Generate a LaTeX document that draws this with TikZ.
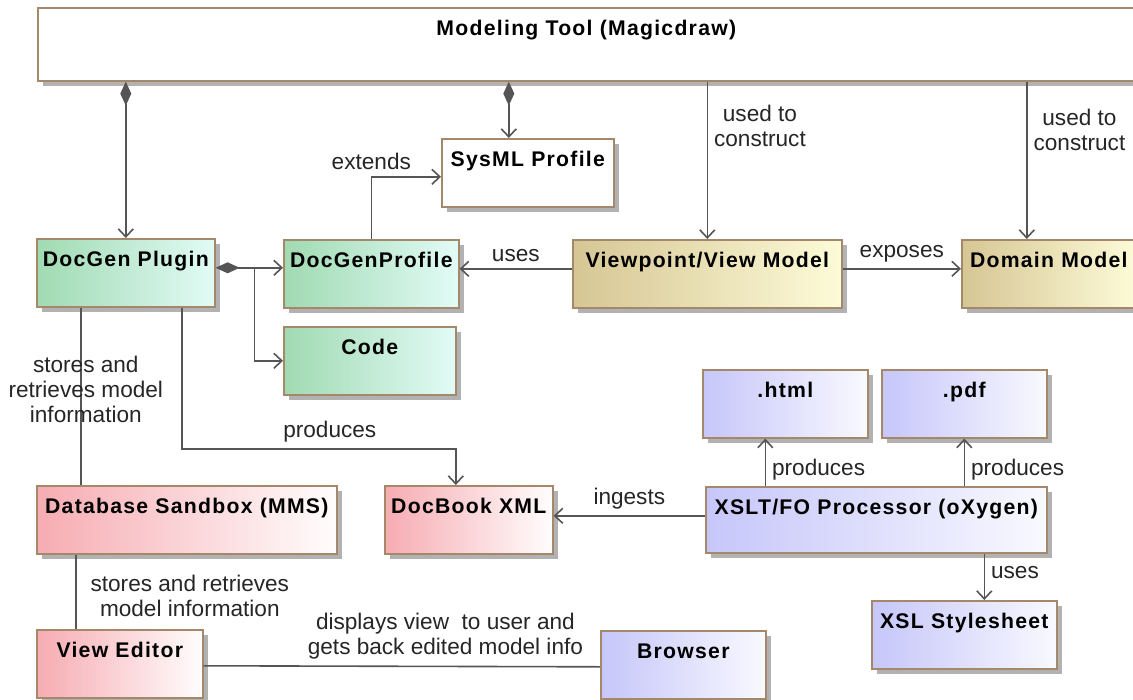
\documentclass[tikz,border=0pt]{standalone}
\usepackage{fontspec}
\setmainfont{Liberation Sans}
\newfontfamily\boxfont{Liberation Sans}[LetterSpace=6]
\usetikzlibrary{arrows.meta, shadows}
\definecolor{edgebrown}{RGB}{165,135,105}
\definecolor{linegray}{RGB}{85,85,85}
\definecolor{greenL}{RGB}{160,218,178}
\definecolor{greenR}{RGB}{226,251,246}
\definecolor{goldL}{RGB}{214,198,148}
\definecolor{goldR}{RGB}{253,251,216}
\definecolor{pinkL}{RGB}{246,172,178}
\definecolor{pinkR}{RGB}{255,253,253}
\definecolor{blueL}{RGB}{198,198,250}
\definecolor{blueR}{RGB}{249,249,255}

\tikzset{
  block/.style={draw=edgebrown, line width=0.8pt, inner sep=0pt, anchor=north west,
    text height=14pt, text depth=20pt,
    font=\fontsize{10.6}{12}\boxfont\bfseries,
    drop shadow={shadow xshift=2.5pt, shadow yshift=-2.5pt, fill=black!30, opacity=1}},
  plainbox/.style={block, fill=white},
  greenbox/.style={block, left color=greenL, right color=greenR},
  goldbox/.style={block, left color=goldL, right color=goldR},
  pinkbox/.style={block, left color=pinkL, right color=pinkR},
  bluebox/.style={block, left color=blueL, right color=blueR},
  lbl/.style={font=\fontsize{11.3}{12.5}\selectfont, text=black!85, inner sep=1pt, align=center},
  assoc/.style={draw=linegray, line width=0.8pt},
  barb/.style={assoc, -{Straight Barb[length=4pt, width=7.5pt]}},
  compose/.style={assoc, {Diamond[length=12pt, width=5.5pt]}-{Straight Barb[length=4pt, width=7.5pt]}}
}

\begin{document}
\begin{tikzpicture}[x=0.5pt, y=-0.5pt]
  \clip (0,0) rectangle (1133,700);
  \fill[white] (0,0) rectangle (1133,700);

  % blocks
  \node[plainbox, minimum width=548.5pt, text depth=22.5pt] (tool) at (37,7) {Modeling Tool (Magicdraw)};
  \node[plainbox, minimum width=86pt] (sysml) at (441,138) {SysML Profile};
  \node[greenbox, minimum width=89pt] (plugin) at (36,238) {DocGen Plugin};
  \node[greenbox, minimum width=87.5pt] (profile) at (283,239) {DocGenProfile};
  \node[greenbox, minimum width=86pt] (code) at (283,326) {Code};
  \node[goldbox, minimum width=134.5pt] (viewmodel) at (572,239) {Viewpoint/View Model};
  \node[goldbox, minimum width=87pt] (domain) at (961,239) {Domain Model};
  \node[bluebox, minimum width=82.5pt] (html) at (702,369) {.html};
  \node[bluebox, minimum width=82.5pt] (pdf) at (881,369) {.pdf};
  \node[bluebox, minimum width=170.5pt, text depth=19pt] (xslt) at (705,486) {XSLT/FO Processor (oXygen)};
  \node[bluebox, minimum width=92.5pt] (xsl) at (871,600) {XSL Stylesheet};
  \node[pinkbox, minimum width=150pt] (db) at (36,485) {Database Sandbox (MMS)};
  \node[pinkbox, minimum width=84pt] (docbook) at (384,485) {DocBook XML};
  \node[pinkbox, minimum width=83pt] (editor) at (36,629) {View Editor};
  \node[bluebox, minimum width=82.5pt] (browser) at (600,630) {Browser};

  % connector ends
  \coordinate (sysmlin) at ([xshift=-9.5pt]sysml.north);
  \coordinate (domainin) at ([xshift=-11pt]domain.north);
  \coordinate (dbline) at ([xshift=-22.5pt]plugin.south);
  \coordinate (plugout) at ([xshift=28pt]plugin.south);
  \coordinate (docbookin) at ([xshift=-6.5pt]docbook.north);
  \coordinate (editorin) at ([xshift=-22pt]editor.north);
  \coordinate (htmlin) at ([xshift=-10pt]html.south);
  \coordinate (xslin) at ([xshift=10pt]xsl.north);
  \coordinate (plugright) at ([yshift=2.5pt]plugin.east);
  \coordinate (fork) at ([xshift=19.5pt]plugright);

  % connectors
  \draw[compose] (plugin.north |- tool.south) -- (plugin.north);
  \draw[compose] (sysmlin |- tool.south) -- (sysmlin);
  \draw[barb] (viewmodel.north |- tool.south) -- node[lbl, pos=0.28, right=2pt] {used to\\construct} (viewmodel.north);
  \draw[barb] (domainin |- tool.south) -- node[lbl, pos=0.31, right=2pt] {used to\\construct} (domainin);
  \draw[barb] (profile.north) |- node[lbl, pos=0.5, above=2pt] {extends} ([yshift=-2pt]sysml.west);
  \draw[compose] (plugright) -- (plugright -| profile.west);
  \draw[barb] (fork) |- (code.west);
  \draw[barb] ([yshift=2.5pt]viewmodel.west) -- node[lbl, above=2pt] {uses} ([yshift=2.5pt]profile.east);
  \draw[barb] ([yshift=2.5pt]viewmodel.east) -- node[lbl, above=2pt] {exposes} ([yshift=2.5pt]domain.west);
  \draw[assoc] (dbline) -- node[lbl, pos=0.46, xshift=2.5pt] {stores and\\retrieves model\\information} (dbline |- db.north);
  \draw[barb] (plugout) |- node[lbl, pos=0.77, above=2pt] {produces} ([yshift=18pt]docbookin) -- (docbookin);
  \draw[assoc] (db.south -| editorin) -- node[lbl, pos=0.55, right=6pt] {stores and retrieves\\model information} (editorin);
  \draw[assoc] ([yshift=-1pt]editor.east) -- node[lbl, pos=0.61, above=2pt] {displays view\ \ to user and\\gets back edited model info} ([yshift=-1pt]browser.west);
  \draw[barb] ([yshift=2pt]xslt.west) -- node[lbl, above=2pt] {ingests} ([yshift=2pt]docbook.east);
  \draw[barb] (htmlin |- xslt.north) -- node[lbl, pos=0.35, right=2pt] {produces} (htmlin);
  \draw[barb] (pdf.south |- xslt.north) -- node[lbl, pos=0.35, right=2pt] {produces} (pdf.south);
  \draw[barb] (xslin |- xslt.south) -- node[lbl, pos=0.4, right=2pt] {uses} (xslin);
\end{tikzpicture}
\end{document}
